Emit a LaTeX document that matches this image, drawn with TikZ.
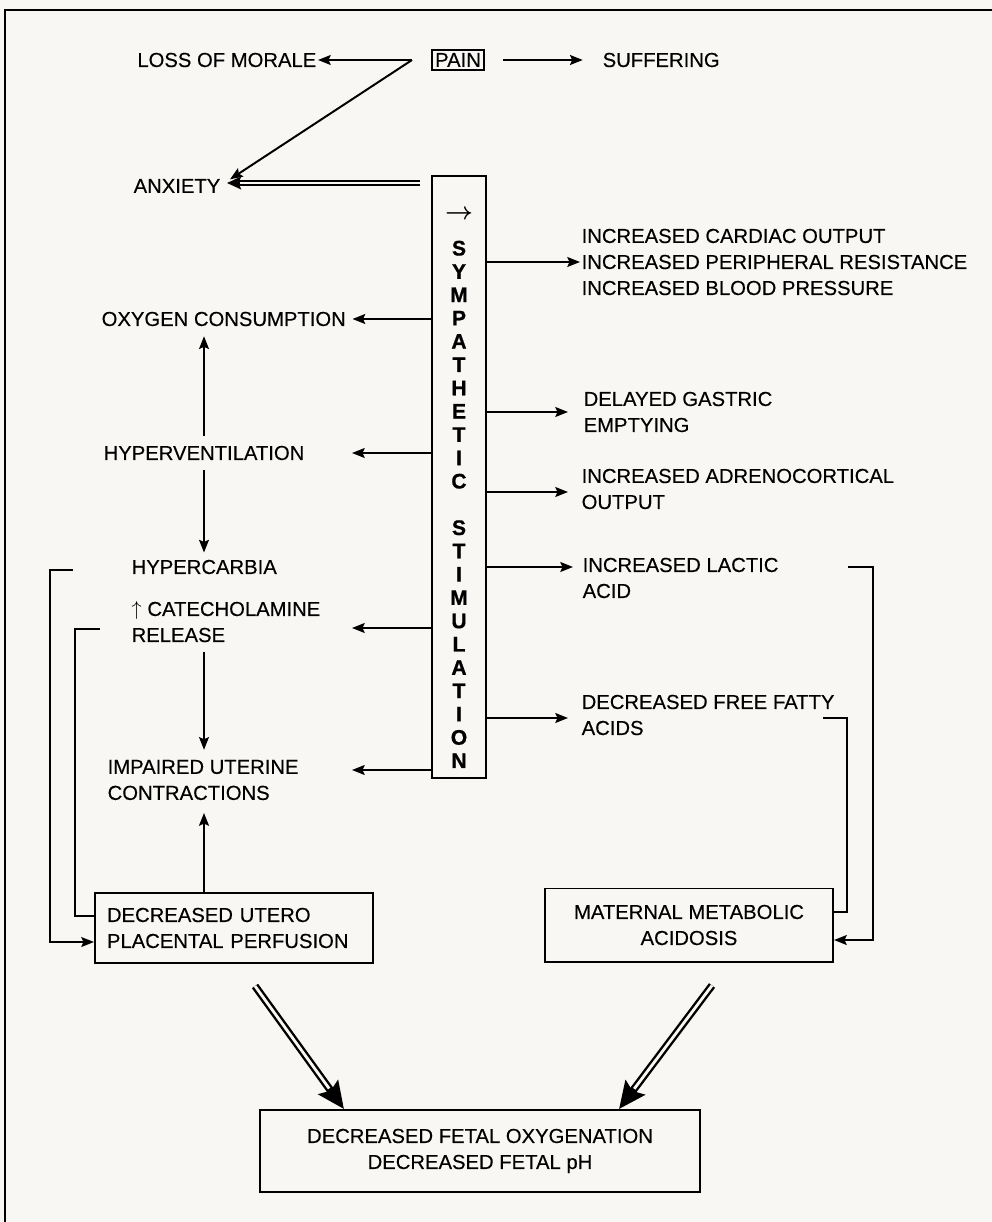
\documentclass[tikz,border=0pt]{standalone}
\usepackage{fontspec}
\setmainfont{Liberation Sans}
\usetikzlibrary{arrows.meta, calc, positioning}
\definecolor{paper}{RGB}{248,247,243}

\begin{document}
\begin{tikzpicture}[
    x=0.025cm, y=-0.025cm,
    txt/.style={font=\fontsize{14.4}{18.5}\selectfont\addfontfeature{FakeBold=0.3}, align=left, inner sep=1pt},
    box/.style={draw, line width=1.4pt, font=\fontsize{14.4}{18.5}\selectfont\addfontfeature{FakeBold=0.3}},
    symtxt/.style={font=\fontsize{15}{16.57}\selectfont\bfseries\addfontfeature{FakeBold=0.8}, align=center, inner sep=0pt},
    line/.style={draw, line width=1.4pt},
    arr/.style={line, -{Stealth[length=9pt, width=7pt, inset=1.5pt]}},
    dblarr/.style={line width=5.4pt, -{Stealth[length=19pt, width=17pt, inset=3pt]},
        postaction={draw=paper, line width=2pt, -, shorten >=18pt}},
    thinarr/.style={line width=3.8pt, -{Stealth[length=10pt, width=9pt, inset=2pt]},
        postaction={draw=paper, line width=1.2pt, -, shorten >=9pt}}
]

    % page and frame
    \fill[paper] (0,0) rectangle (992,1222);
    \useasboundingbox (0,0) rectangle (992,1222);
    \draw[line width=1.6pt] (5,1222) -- (5,10) -- (992,10);

    % Top row
    \node[box, inner sep=2pt] (pain) at (458,60) {PAIN};
    \node[txt, anchor=east] (morale) at (318,60) {LOSS OF MORALE};
    \node[txt, anchor=west] (suffer) at (601,60) {SUFFERING};
    \coordinate (split) at (412,60);

    % Sympathetic column
    \node[draw, line width=1.4pt, minimum width=1.35cm, minimum height=15.05cm] (sym) at (459,477) {};
    \node[symtxt] (symlab) at (459,489) {{\fontsize{17}{16}\selectfont\boldmath$\rightarrow$}\\[9pt]
        S\\Y\\M\\P\\A\\T\\H\\E\\T\\I\\C\\[16.5pt]
        S\\T\\I\\M\\U\\L\\A\\T\\I\\O\\N};

    % Left column
    \node[txt, anchor=east] (anx) at (222,186) {ANXIETY};
    \node[txt, anchor=west] (oxy) at (100,319) {OXYGEN CONSUMPTION};
    \node[txt, anchor=west] (hypv) at (102,453) {HYPERVENTILATION};
    \node[txt, anchor=west] (hypc) at (130,567) {HYPERCARBIA};
    \node[txt, anchor=west] (cat) at (130,622) {$\uparrow$ CATECHOLAMINE\\RELEASE};
    \node[txt, anchor=west] (imp) at (106,780) {IMPAIRED UTERINE\\CONTRACTIONS};

    % Right column
    \node[txt, anchor=west] (cardiac) at (580,262) {INCREASED CARDIAC OUTPUT\\INCREASED PERIPHERAL RESISTANCE\\INCREASED BLOOD PRESSURE};
    \node[txt, anchor=west] (gastric) at (582,412) {DELAYED GASTRIC\\EMPTYING};
    \node[txt, anchor=west] (adreno) at (580,489) {INCREASED ADRENOCORTICAL\\OUTPUT};
    \node[txt, anchor=west] (lactic) at (581,578) {INCREASED LACTIC\\ACID};
    \node[txt, anchor=west] (fatty) at (580,715) {DECREASED FREE FATTY\\ACIDS};

    % Boxes
    \node[box, text width=6.35cm, inner xsep=0.3cm, minimum height=1.75cm, align=left] (utero) at (234,928) {DECREASED UTERO\\PLACENTAL PERFUSION};
    \node[box, minimum width=7.2cm, minimum height=1.825cm, align=center] (maternal) at (689,925) {MATERNAL METABOLIC\\ACIDOSIS};
    \node[box, minimum width=11cm, minimum height=2.05cm, align=center] (fetal) at (480,1151) {DECREASED FETAL OXYGENATION\\DECREASED FETAL pH};

    % helper columns
    \coordinate (ltip) at (352,0);
    \coordinate (vcol) at (204,0);
    \coordinate (lb1) at (50,0);
    \coordinate (lb2) at (75,0);
    \coordinate (rb1) at (873,0);
    \coordinate (rb2) at (847,0);

    % Edges - pain
    \draw[arr] (split) -- (morale.east);
    \draw[arr] (split) -- ($(anx.north east)+(8,2)$);
    \draw[arr, shorten <=13pt, shorten >=13pt] (pain.east) -- (suffer.west);
    \draw[thinarr, shorten <=8pt] ($(sym.west |- anx.east)+(0,-3)$) -- ($(anx.east)+(5,-3)$);

    % Edges - left of column
    \draw[arr] (sym.west |- oxy.east) -- ($(oxy.east)+(5,0)$);
    \draw[arr] (sym.west |- hypv.east) -- (ltip |- hypv.east);
    \draw[arr] ($(sym.west |- cat.east)+(0,6)$) -- ($(ltip |- cat.east)+(0,6)$);
    \draw[arr] ($(sym.west |- imp.east)+(0,-10)$) -- ($(ltip |- imp.east)+(0,-10)$);

    % Edges - right of column
    \draw[arr] (sym.east |- cardiac.west) -- (cardiac.west);
    \draw[arr] (sym.east |- gastric.west) -- ($(gastric.west)+(-14,0)$);
    \draw[arr] ($(sym.east |- adreno.west)+(0,3)$) -- ($(adreno.west)+(-12,3)$);
    \draw[arr] ($(sym.east |- lactic.west)+(0,-11)$) -- ($(lactic.west)+(-8,-11)$);
    \draw[arr] ($(sym.east |- fatty.west)+(0,3)$) -- ($(fatty.west)+(-12,3)$);

    % Edges - left chain
    \draw[arr, {Stealth[length=9pt, width=7pt, inset=1.5pt]}-, shorten <=6pt, shorten >=6pt] (vcol |- oxy.south) -- (vcol |- hypv.north);
    \draw[arr, shorten <=6pt, shorten >=4pt] (vcol |- hypv.south) -- (vcol |- hypc.north);
    \draw[arr, shorten <=6pt, shorten >=6pt] (vcol |- cat.south) -- (vcol |- imp.north);
    \draw[arr, shorten >=8pt] (vcol |- utero.north) -- (vcol |- imp.south);

    % Feedback brackets
    \draw[arr] ($(hypc.west)+(-57,3)$) -- ($(lb1 |- hypc.west)+(0,3)$) |- ($(utero.west)+(0,14)$);
    \draw[line] ($(cat.west)+(-30,7)$) -- ($(lb2 |- cat.west)+(0,7)$) |- ($(utero.west)+(0,-12)$);
    \draw[arr] ($(rb1 |- lactic.east)+(-25,-11)$) -- ($(rb1 |- lactic.east)+(0,-11)$) |- ($(maternal.east)+(0,15)$);
    \draw[line] ($(rb2 |- fatty.east)+(-24,3)$) -- ($(rb2 |- fatty.east)+(0,3)$) |- ($(maternal.east)+(0,-13)$);

    % Edges - to fetal outcome
    \draw[dblarr] ($(utero.south)+(21,22)$) -- ($(fetal.north west)+(85,0)$);
    \draw[dblarr] ($(maternal.south)+(23,23)$) -- ($(fetal.north east)+(-82,0)$);

\end{tikzpicture}
\end{document}
